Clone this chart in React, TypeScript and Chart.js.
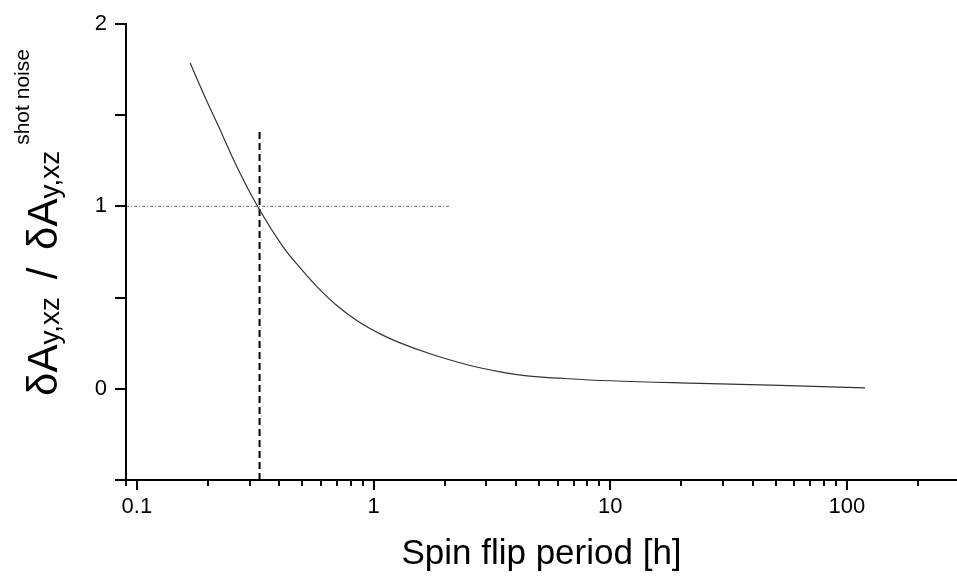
import React, { useEffect, useRef } from 'react';
import { Chart, registerables } from 'chart.js';

Chart.register(...registerables);

// Curve: relative uncertainty vs spin flip period
const periodHours = [0.168, 0.194, 0.218, 0.265, 0.325, 0.415, 0.49, 0.578, 0.702, 0.853, 1.066, 1.295, 1.734, 2.486, 3.427, 4.456, 6.142, 10, 24, 52.2, 119.4];
const noiseRatio = [1.786, 1.6, 1.458, 1.216, 0.997, 0.778, 0.663, 0.559, 0.455, 0.373, 0.301, 0.252, 0.192, 0.132, 0.093, 0.071, 0.058, 0.044, 0.03, 0.019, 0.005];

// Reference lines
const flipLineX = [0.33, 0.33];
const flipLineY = [-0.5, 1.41];
const unityLineX = [0.09, 2.1];
const unityLineY = [1, 1];

// Axes
const xRange = [0.09, 292];
const yRange = [-0.5, 2];
const xMajorTicks = [0.1, 1, 10, 100];
const xTickLabels = ['0.1', '1', '10', '100'];
const yMajorTicks = [0, 1, 2];
const yTickLabels = ['0', '1', '2'];

const FONT = "'Liberation Sans', Arial, Helvetica, sans-serif";

const toPoints = (xs: number[], ys: number[]) => xs.map((x, i) => ({ x, y: ys[i] }));

const close = (a: number, b: number) => Math.abs(a - b) < 1e-9 * Math.max(1, Math.abs(b));

const axesPlugin = {
  id: 'originAxes',
  afterDraw(chart: any) {
    const { ctx, chartArea } = chart;
    const { left, right, top, bottom } = chartArea;
    const xs = chart.scales.x;
    const ys = chart.scales.y;
    ctx.save();
    ctx.strokeStyle = '#000';
    ctx.lineWidth = 2;
    ctx.beginPath();
    ctx.moveTo(left - 6, bottom);
    ctx.lineTo(right, bottom);
    ctx.moveTo(left, top - 1);
    ctx.lineTo(left, bottom + 1);
    ctx.stroke();

    // x ticks (major long, minor short)
    ctx.beginPath();
    xs.ticks.forEach((t: any) => {
      const v = t.value;
      const e = Math.floor(Math.log10(v) + 1e-9);
      const m = v / Math.pow(10, e);
      if (Math.abs(m - Math.round(m)) > 1e-6) return;
      const px = xs.getPixelForValue(v);
      if (px < left - 1 || px > right - 1) return;
      const major = Math.abs(m - 1) < 1e-6;
      const len = major ? 10 : 6;
      ctx.moveTo(Math.round(px), bottom);
      ctx.lineTo(Math.round(px), bottom + len);
    });
    // y ticks
    ys.ticks.forEach((t: any) => {
      const py = ys.getPixelForValue(t.value);
      ctx.moveTo(left - 11, Math.round(py));
      ctx.lineTo(left, Math.round(py));
    });
    ctx.stroke();

    // y-axis title with sub/superscripts
    ctx.fillStyle = '#000';
    ctx.textAlign = 'left';
    ctx.textBaseline = 'alphabetic';
    ctx.translate(57, 396);
    ctx.rotate(-Math.PI / 2);
    let x = 0;
    const seg = (text: string, size: number, dy: number, gap = 0) => {
      ctx.font = `${size}px ${FONT}`;
      ctx.fillText(text, x, dy);
      x += ctx.measureText(text).width + gap;
    };
    seg('δA', 42, 0);
    seg('y,xz', 28, 2, 6);
    seg(' / ', 42, 0, 6);
    seg('δA', 42, 0);
    seg('y,xz', 28, 2, 6);
    seg('shot noise', 21, -28);
    ctx.restore();
  },
};

export default function App() {
  const ref = useRef<HTMLCanvasElement | null>(null);
  useEffect(() => {
    if (!ref.current) return;
    const chart = new Chart(ref.current, {
      type: 'scatter',
      data: {
        datasets: [
          {
            data: toPoints(periodHours, noiseRatio),
            showLine: true,
            borderColor: '#333',
            borderWidth: 1.2,
            pointRadius: 0,
            tension: 0.4,
          },
          {
            data: toPoints(flipLineX, flipLineY),
            showLine: true,
            borderColor: '#000',
            borderWidth: 2,
            borderDash: [7, 4],
            pointRadius: 0,
          },
          {
            data: toPoints(unityLineX, unityLineY),
            showLine: true,
            borderColor: '#888',
            borderWidth: 1.2,
            borderDash: [3, 2, 1, 2],
            pointRadius: 0,
          },
        ],
      },
      options: {
        responsive: false,
        animation: false,
        layout: { padding: { top: 24, right: 0, left: 0, bottom: 0 } },
        plugins: { legend: { display: false }, tooltip: { enabled: false }, title: { display: false } },
        scales: {
          x: {
            type: 'logarithmic',
            min: xRange[0],
            max: xRange[1],
            grid: { display: false, drawTicks: false },
            border: { display: false },
            afterFit: (s: any) => {
              s.height = 100;
              s.paddingLeft = 0;
              s.paddingRight = 0;
            },
            ticks: {
              autoSkip: false,
              maxRotation: 0,
              padding: 14,
              color: '#000',
              font: { family: FONT, size: 22 },
              callback: (v: any) => {
                const i = xMajorTicks.findIndex((m) => close(Number(v), m));
                return i >= 0 ? xTickLabels[i] : '';
              },
            },
            title: {
              display: true,
              text: 'Spin flip period [h]',
              color: '#000',
              font: { family: FONT, size: 35 },
              padding: { top: 0, bottom: 5 },
            },
          },
          y: {
            min: yRange[0],
            max: yRange[1],
            grid: { display: false, drawTicks: false },
            border: { display: false },
            afterFit: (s: any) => {
              s.width = 126;
              s.paddingTop = 0;
              s.paddingBottom = 0;
            },
            ticks: {
              stepSize: 0.5,
              padding: 19,
              color: '#000',
              font: { family: FONT, size: 22 },
              callback: (v: any) => {
                const i = yMajorTicks.findIndex((m) => close(Number(v), m));
                return i >= 0 ? yTickLabels[i] : '';
              },
            },
          },
        },
      },
      plugins: [axesPlugin],
    });
    return () => chart.destroy();
  }, []);
  return (
    <div style={{ position: 'absolute', left: 0, top: 0, width: 957, height: 580, background: '#fff' }}>
      <canvas ref={ref} width={957} height={580} style={{ display: 'block' }} />
    </div>
  );
}
